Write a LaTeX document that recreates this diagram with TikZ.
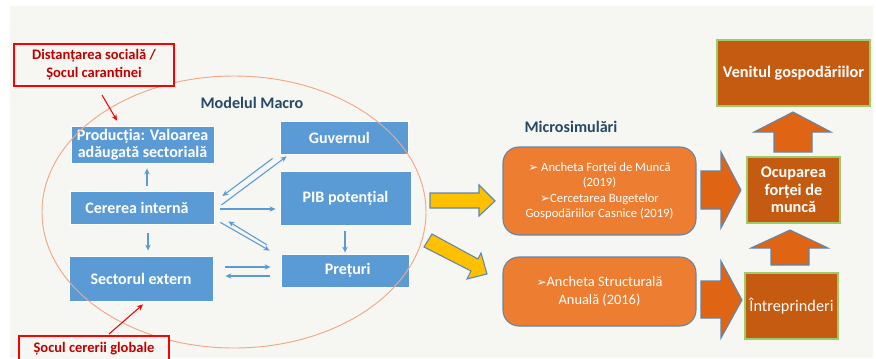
\documentclass[tikz,border=0pt]{standalone}
\usepackage{fontspec}
\setmainfont{Carlito}
\newfontfamily\dejavu{DejaVu Sans}
\definecolor{panel}{HTML}{F6F6F2}
\definecolor{bluebox}{HTML}{5B9BD5}
\definecolor{bluearrow}{HTML}{5B9BD5}
\definecolor{blockedge}{HTML}{5F87AE}
\definecolor{orangebox}{HTML}{ED7D31}
\definecolor{darkbox}{HTML}{C55A11}
\definecolor{blockfill}{HTML}{DF6514}
\definecolor{greenedge}{HTML}{9CCB6A}
\definecolor{yellowfill}{HTML}{FFC000}
\definecolor{ellipseline}{HTML}{EFA987}
\definecolor{redtext}{HTML}{C00000}
\definecolor{headtext}{HTML}{264A66}
\tikzset{
  x=.75pt,y=-.75pt,
  bluenode/.style={draw=white,line width=.6pt,fill=bluebox,text=white,font=\fontsize{12}{12.9}\selectfont\bfseries,align=center,inner sep=0pt},
  rednode/.style={draw=red,line width=1.5pt,fill=panel,text=redtext,font=\fontsize{10.9}{13.5}\selectfont\bfseries,align=center,inner sep=0pt},
  micronode/.style={draw=blockedge,line width=.8pt,fill=orangebox,text=white,rounded corners=12pt,align=center,inner sep=0pt},
  darknode/.style={draw=greenedge,line width=.8pt,fill=darkbox,text=white,align=center,inner sep=0pt},
  heading/.style={text=headtext,font=\fontsize{12.1}{13}\selectfont\bfseries,inner sep=0pt},
  bluelink/.style={draw=bluearrow,line width=.8pt,-{Stealth[length=4.5pt,width=4pt]}},
  redlink/.style={draw=red,line width=.8pt,-{Stealth[length=4.5pt,width=4pt]}},
  blockarrow/.style={draw=blockedge,line width=.8pt,fill=blockfill,line join=miter},
  yellowarrow/.style={draw=blockedge,line width=.8pt,fill=yellowfill,line join=miter},
}
\usetikzlibrary{arrows.meta}
\newcommand{\bul}{{\dejavu\fontsize{9}{9}\selectfont ➢}}
\begin{document}
\begin{tikzpicture}
\useasboundingbox (0,0) rectangle (876,358);
\clip (0,0) rectangle (876,358);
\fill[white] (0,0) rectangle (876,358);
\fill[panel] (10,6) rectangle (873,358);

% macro model boxes
\node[bluenode,minimum width=107.25pt,minimum height=27.75pt] (prod) at (142.5,144.5) {Producția: Valoarea\\adăugată sectorială};
\node[bluenode,minimum width=96pt,minimum height=24.75pt] (guv) at (344,137.5) {Guvernul\kern7pt};
\node[bluenode,minimum width=98.25pt,minimum height=40.5pt] (pib) at (345.5,198) {PIB potențial};
\node[bluenode,minimum width=108pt,minimum height=24.75pt] (cer) at (142,207.5) {Cererea internă\kern7.5pt};
\node[bluenode,minimum width=108pt,minimum height=33.75pt] (sec) at (141,278.5) {Sectorul extern};
\node[bluenode,minimum width=96pt,minimum height=24.75pt] (pre) at (345,270.5) {\kern4pt Prețuri};

% model ellipse
\draw[ellipseline,line width=.7pt] (234,212) ellipse [x radius=192,y radius=136];

% shock boxes
\node[rednode,minimum width=120pt,minimum height=31.5pt] (dist) at (94,65) {Distanțarea socială /\\Șocul carantinei};
\node[rednode,minimum width=112.5pt,minimum height=19.5pt] (soc) at (94,349) {Șocul cererii globale};

\node[heading] (macro) at (252,103) {Modelul Macro};
\node[heading] (micro) at (571,127) {Microsimulări};

% links inside the macro model
\draw[bluelink] ([shift={(-7,4)}]guv.south west) -- ([shift={(8,-11.5)}]cer.east);
\draw[bluelink] ([shift={(7,-2.5)}]cer.east) -- ([shift={(7,2)}]guv.south west);
\draw[bluelink] ([shift={(6,1.5)}]cer.east) -- ([shift={(-4,11)}]pib.west);
\draw[bluelink] ([shift={(-14,-9)}]pre.north west) -- ([shift={(14,-3)}]cer.south east);
\draw[bluelink] ([shift={(6,-2)}]cer.south east) -- ([shift={(-11,-3)}]pre.north west);
\draw[bluelink] ([shift={(12,-11.5)}]sec.east) -- ([shift={(-10,-3.5)}]pre.west);
\draw[bluelink] ([shift={(-11,5.5)}]pre.west) -- ([shift={(12,-2.5)}]sec.east);
\draw[bluelink] ([shift={(-.5,6)}]pib.south) -- ([shift={(0,-1)}]pre.north);
\draw[bluelink] ([shift={(6,9)}]cer.south) -- ([shift={(7,-5)}]sec.north);
\draw[bluelink] ([shift={(5,-5)}]cer.north) -- ([shift={(4.5,5)}]prod.south);
\draw[redlink] ([shift={(8,8)}]dist.south) -- ([shift={(-25.5,-5)}]prod.north);
\draw[redlink] ([shift={(15,-1)}]soc.north) -- ([shift={(2,3)}]sec.south);

% microsimulation boxes
\node[micronode,minimum width=144.75pt,minimum height=66pt,font=\fontsize{9.5}{11.6}\selectfont] (m1) at (599.5,191) {\bul\ Ancheta Forței de Muncă\\(2019)\\\bul Cercetarea Bugetelor\\Gospodăriilor Casnice (2019)};
\node[micronode,minimum width=144.75pt,minimum height=51.75pt,font=\fontsize{10.8}{13.5}\selectfont] (m2) at (599.5,291.5) {\bul Ancheta Structurală\\Anuală (2016)};

% results
\node[darknode,minimum width=114.75pt,minimum height=49.5pt,font=\fontsize{12.2}{13}\selectfont\bfseries] (ven) at (793.5,73) {Venitul gospodăriilor};
\node[darknode,minimum width=69.75pt,minimum height=49.5pt,font=\fontsize{12.2}{13.2}\selectfont\bfseries] (ocu) at (793.5,190) {Ocuparea\\forței de\\muncă};
\node[darknode,minimum width=69.75pt,minimum height=49.5pt,font=\fontsize{12.2}{13}\selectfont] (intr) at (791.5,306) {Întreprinderi};

% block arrows
\draw[yellowarrow] (430,193) -- (479,193) -- (479,185) -- (495,201) -- (479,216) -- (479,208) -- (430,208) -- cycle;
\draw[yellowarrow] (432,234) -- (478,259) -- (481,253) -- (487,274) -- (467,279) -- (471,271) -- (424,247) -- cycle;
\draw[blockarrow] (701,171) -- (721,171) -- (721,152) -- (741,190) -- (721,228) -- (721,209) -- (701,209) -- cycle;
\draw[blockarrow] (701,281) -- (721,281) -- (721,261) -- (742,300) -- (721,338) -- (721,318) -- (701,318) -- cycle;
\draw[blockarrow] (793,112) -- (831,132) -- (812,132) -- (812,152) -- (774,152) -- (774,132) -- (754,132) -- cycle;
\draw[blockarrow] (790,230) -- (828,248) -- (809,248) -- (809,265) -- (771,265) -- (771,248) -- (751,248) -- cycle;
\end{tikzpicture}
\end{document}
